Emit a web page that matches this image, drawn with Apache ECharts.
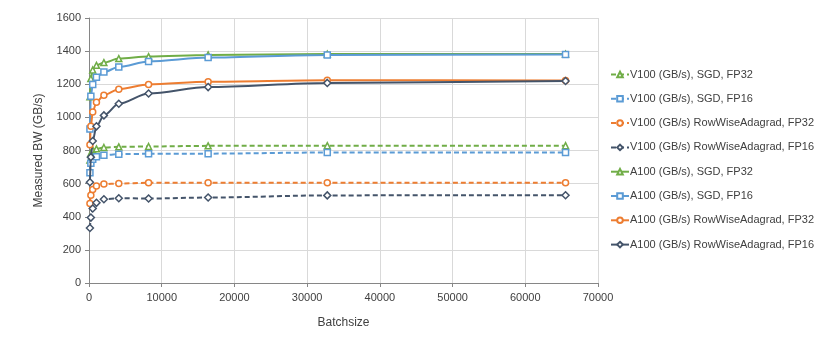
<!DOCTYPE html>
<html>
<head>
<meta charset="utf-8">
<script src="https://cdn.jsdelivr.net/npm/echarts@6/dist/echarts.min.js"></script>
<style>
    html, body { margin: 0; padding: 0; background: #fff; }
    #chart { width: 830px; height: 341px; }
</style>
</head>
<body>
<div id="chart"></div>
<script>
    // batch sizes (x)
    const batchSizes = [128, 256, 512, 1024, 2048, 4096, 8192, 16384, 32768, 65536];

    // measured bandwidth, GB/s
    const v100SgdFp32 = [743, 784, 804, 810, 818, 822, 824, 828, 829, 829];
    const v100SgdFp16 = [666, 723, 747, 763, 772, 778, 780, 781, 788, 788];
    const v100RwaFp32 = [480, 530, 565, 585, 597, 601, 605, 605, 606, 606];
    const v100RwaFp16 = [332, 395, 450, 484, 506, 512, 510, 516, 529, 530];
    const a100SgdFp32 = [1124, 1234, 1286, 1314, 1331, 1355, 1367, 1377, 1382, 1382];
    const a100SgdFp16 = [930, 1128, 1199, 1243, 1274, 1304, 1337, 1361, 1377, 1380];
    const a100RwaFp32 = [834, 946, 1033, 1092, 1134, 1170, 1199, 1215, 1224, 1222];
    const a100RwaFp16 = [608, 760, 857, 946, 1012, 1082, 1144, 1183, 1208, 1220];

    const seriesNames = [
        'V100 (GB/s), SGD, FP32',
        'V100 (GB/s), SGD, FP16',
        'V100 (GB/s) RowWiseAdagrad, FP32',
        'V100 (GB/s) RowWiseAdagrad, FP16',
        'A100 (GB/s), SGD, FP32',
        'A100 (GB/s), SGD, FP16',
        'A100 (GB/s) RowWiseAdagrad, FP32',
        'A100 (GB/s) RowWiseAdagrad, FP16'
    ];

    const font = 'Liberation Sans, Arial, sans-serif';
    const green = '#70AD47';
    const blue = '#5B9BD5';
    const orange = '#ED7D31';
    const slate = '#44546A';

    function makeSeries(name, values, color, symbol, dashed) {
        return {
            name,
            type: 'line',
            data: batchSizes.map((b, i) => [b, values[i]]),
            smooth: 0.3,
            smoothMonotone: 'x',
            symbol,
            symbolSize: symbol === 'diamond' ? 7 : 6,
            showAllSymbol: true,
            lineStyle: { color, width: 2, type: dashed ? [5, 3] : 'solid' },
            itemStyle: { color: '#fff', borderColor: color, borderWidth: 1.5 },
            emphasis: { disabled: true },
            z: dashed ? 2 : 3
        };
    }

    const chart = echarts.init(document.getElementById('chart'));
    const option = {
        animation: false,
        textStyle: { fontFamily: font },
        grid: { left: 89, top: 18, width: 509, height: 265 },
        legend: {
            orient: 'vertical',
            left: 605,
            top: 64,
            itemGap: 13.3,
            itemWidth: 18,
            itemHeight: 7,
            textStyle: { fontFamily: font, fontSize: 11, color: '#404040', padding: [0, 0, 0, -4] },
            data: seriesNames
        },
        xAxis: {
            type: 'value',
            min: 0,
            max: 70000,
            interval: 10000,
            name: 'Batchsize',
            nameLocation: 'middle',
            nameGap: 34,
            nameTextStyle: { fontFamily: font, fontSize: 12, color: '#404040' },
            axisLine: { lineStyle: { color: '#868686' } },
            axisTick: { show: true, length: 4, lineStyle: { color: '#868686' } },
            axisLabel: { fontFamily: font, fontSize: 11, color: '#404040', margin: 9, formatter: v => String(v) },
            splitLine: { show: true, lineStyle: { color: '#D9D9D9' } }
        },
        yAxis: {
            type: 'value',
            min: 0,
            max: 1600,
            interval: 200,
            name: 'Measured BW (GB/s)',
            nameLocation: 'middle',
            nameGap: 44,
            nameTextStyle: { fontFamily: font, fontSize: 12, color: '#404040' },
            axisLine: { show: true, lineStyle: { color: '#868686' } },
            axisTick: { show: true, length: 4, lineStyle: { color: '#868686' } },
            axisLabel: { fontFamily: font, fontSize: 11, color: '#404040', margin: 8, formatter: v => String(v) },
            splitLine: { show: true, lineStyle: { color: '#D9D9D9' } }
        },
        series: [
            makeSeries(seriesNames[0], v100SgdFp32, green, 'triangle', true),
            makeSeries(seriesNames[1], v100SgdFp16, blue, 'rect', true),
            makeSeries(seriesNames[2], v100RwaFp32, orange, 'circle', true),
            makeSeries(seriesNames[3], v100RwaFp16, slate, 'diamond', true),
            makeSeries(seriesNames[4], a100SgdFp32, green, 'triangle', false),
            makeSeries(seriesNames[5], a100SgdFp16, blue, 'rect', false),
            makeSeries(seriesNames[6], a100RwaFp32, orange, 'circle', false),
            makeSeries(seriesNames[7], a100RwaFp16, slate, 'diamond', false)
        ]
    };
    chart.setOption(option);
</script>
</body>
</html>
